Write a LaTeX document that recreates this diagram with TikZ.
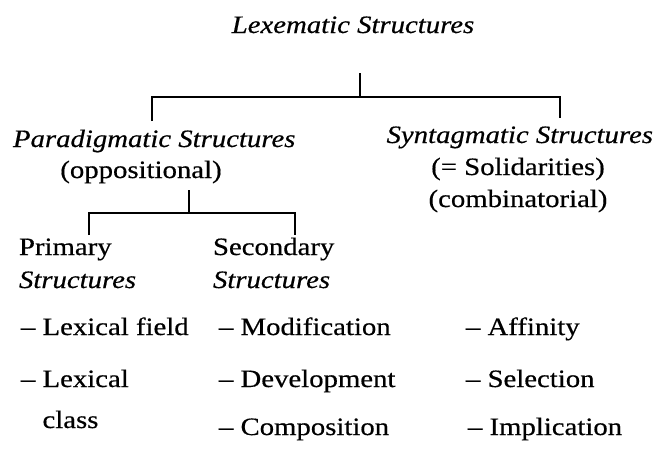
\documentclass[tikz,border=0pt]{standalone}
\usepackage{fontspec}
\setmainfont{Liberation Serif}[FakeStretch=1.15, FakeBold=0.5]
\begin{document}
\begin{tikzpicture}[x=1pt, y=-1pt, line width=2pt,
  lbl/.style={inner sep=0pt, font=\fontsize{25}{29}\selectfont},
  itl/.style={inner sep=0pt, font=\fontsize{25}{29}\selectfont\itshape}]
\useasboundingbox (0,0) rectangle (659,448);

% headings
\node[itl, anchor=base] (lex) at (353,33) {Lexematic Structures};
\node[itl, anchor=base west] (par) at (12,147) {Paradigmatic Structures};
\node[lbl, anchor=base] (opp) at (141,178) {(oppositional)};
\node[itl, anchor=base east] (syn) at (654,143) {Syntagmatic Structures};
\node[lbl, anchor=base] (sol) at (518,175) {(= Solidarities)};
\node[lbl, anchor=base] (comb) at (518,207) {(combinatorial)};
\node[lbl, anchor=base west] (pri) at (18,255) {Primary};
\node[itl, anchor=base west] (pris) at (18,288) {Structures};
\node[lbl, anchor=base west] (sec) at (212,255) {Secondary};
\node[itl, anchor=base west] (secs) at (212,288) {Structures};

% lists
\node[lbl, anchor=base west] (lf) at (20,335) {– Lexical field};
\node[lbl, anchor=base west] (lc) at (20,387) {– Lexical};
\node[lbl, anchor=base west] (cls) at (20,428) {\phantom{– }class};
\node[lbl, anchor=base west] (mod) at (218,335) {– Modification};
\node[lbl, anchor=base west] (dev) at (218,387) {– Development};
\node[lbl, anchor=base west] (com) at (218,435) {– Composition};
\node[lbl, anchor=base west] (aff) at (465,335) {– Affinity};
\node[lbl, anchor=base west] (sel) at (465,387) {– Selection};
\node[lbl, anchor=base west] (imp) at (467,435) {– Implication};

% upper bracket
\coordinate (a0) at (360,73);
\coordinate (a1) at (360,97);
\coordinate (aL) at (152,97);
\coordinate (aR) at (560,97);
\coordinate (aLd) at (152,121);
\coordinate (aRd) at (560,118);
\draw (a0) -- (a1);
\draw (aLd) -- (aL) -- (aR) -- (aRd);

% lower bracket
\coordinate (b0) at (189,190);
\coordinate (b1) at (189,213);
\coordinate (bL) at (89,213);
\coordinate (bR) at (295,213);
\coordinate (bLd) at (89,235);
\coordinate (bRd) at (295,235);
\draw (b0) -- (b1);
\draw (bLd) -- (bL) -- (bR) -- (bRd);
\end{tikzpicture}
\end{document}
